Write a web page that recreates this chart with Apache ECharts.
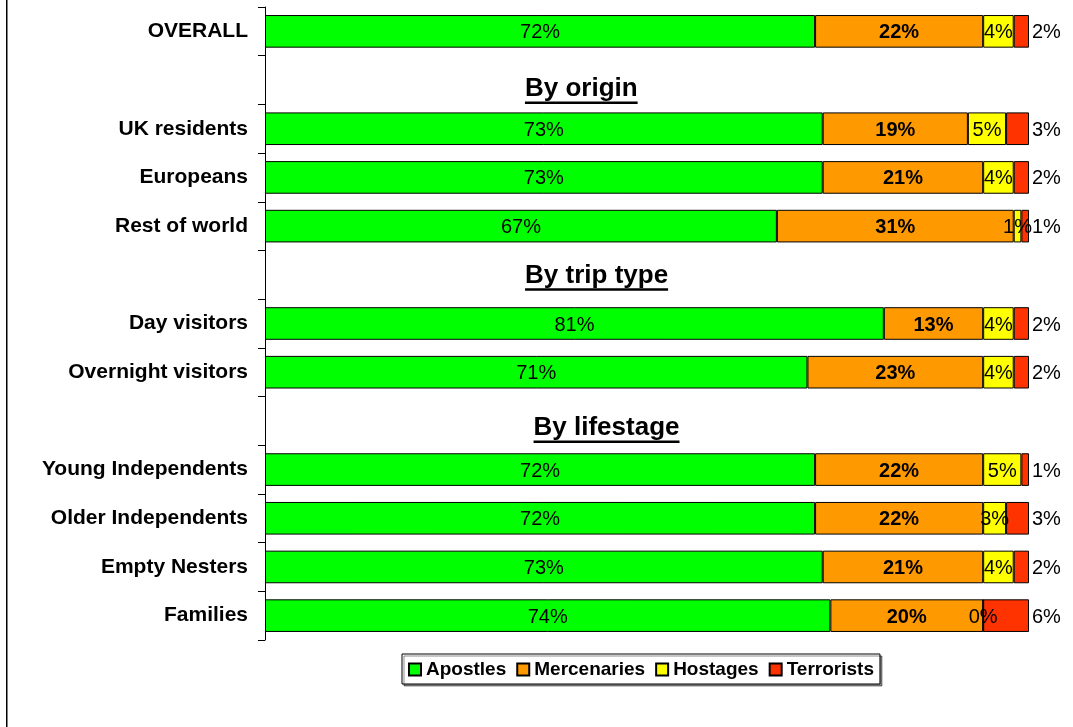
<!DOCTYPE html>
<html>
<head>
<meta charset="utf-8">
<script src="https://cdn.jsdelivr.net/npm/echarts@6/dist/echarts.min.js"></script>
<style>
html, body { margin: 0; padding: 0; background: #fff; }
#main { width: 1073px; height: 727px; }
</style>
</head>
<body>
<div id="main"></div>
<script>
// rows top to bottom; the heading rows carry no bars
var categories = ['OVERALL', 'By origin', 'UK residents', 'Europeans', 'Rest of world',
    'By trip type', 'Day visitors', 'Overnight visitors', 'By lifestage',
    'Young Independents', 'Older Independents', 'Empty Nesters', 'Families'];
var headings = ['By origin', 'By trip type', 'By lifestage'];
var seriesNames = ['Apostles', 'Mercenaries', 'Hostages', 'Terrorists'];

var apostles    = [72, null, 73, 73, 67, null, 81, 71, null, 72, 72, 73, 74];
var mercenaries = [22, null, 19, 21, 31, null, 13, 23, null, 22, 22, 21, 20];
var hostages    = [4,  null, 5,  4,  1,  null, 4,  4,  null, 5,  3,  4,  0];
var terrorists  = [2,  null, 3,  2,  1,  null, 2,  2,  null, 1,  3,  2,  6];

var FONT = '"Liberation Sans", Arial, sans-serif';
var chart = echarts.init(document.getElementById('main'));

var measureCtx = document.createElement('canvas').getContext('2d');
function textWidth(txt, font) {
    measureCtx.font = font;
    return measureCtx.measureText(txt).width;
}

// where the heading text boxes sit (x in %, dy in px from row centre)
var headingPos = [[41.4, 9], [43.4, 1], [44.7, 7]];

function barSeries(name, data, color, label) {
    return {
        name: name,
        type: 'bar',
        stack: 'total',
        barCategoryGap: '33%',
        data: data,
        itemStyle: { color: color, borderColor: '#000', borderWidth: 1 },
        label: Object.assign({
            show: true,
            formatter: '{c}%',
            color: '#000',
            fontFamily: FONT,
            fontSize: 20,
            offset: [0, 1.5]
        }, label),
        emphasis: { disabled: true }
    };
}

var option = {
    animation: false,
    backgroundColor: '#fff',
    grid: { left: 265, right: 44, top: 7, bottom: 87 },
    xAxis: {
        type: 'value',
        min: 0,
        max: 100,
        show: false
    },
    yAxis: {
        type: 'category',
        inverse: true,
        data: categories,
        axisLine: { show: true, lineStyle: { color: '#000', width: 1 } },
        axisTick: { show: true, length: 7, alignWithLabel: false, lineStyle: { color: '#000', width: 1 } },
        axisLabel: {
            margin: 17,
            fontFamily: FONT,
            fontSize: 21,
            fontWeight: 'bold',
            color: '#000',
            padding: [5, 0, 0, 0],
            formatter: function (v) { return headings.indexOf(v) >= 0 ? '' : v; }
        }
    },
    legend: {
        data: seriesNames,
        left: 402,
        top: 654,
        padding: [6, 6, 5, 6],
        itemWidth: 12,
        itemHeight: 12,
        itemGap: 10,
        icon: 'rect',
        borderColor: '#000',
        borderWidth: 1,
        backgroundColor: '#fff',
        shadowColor: 'rgba(0,0,0,0.45)',
        shadowOffsetX: 2,
        shadowOffsetY: 2,
        shadowBlur: 0,
        textStyle: { fontFamily: FONT, fontSize: 19, fontWeight: 'bold', color: '#000', padding: [2, 0, 0, 0] }
    },
    graphic: [{
        type: 'rect',
        shape: { x: 6, y: 0, width: 1.5, height: 727 },
        style: { fill: '#000' }
    }],
    series: [
        barSeries('Apostles', apostles, '#00ff00', { position: 'inside' }),
        barSeries('Mercenaries', mercenaries, '#ff9900', { position: 'inside', fontWeight: 'bold' }),
        barSeries('Hostages', hostages, '#ffff00', { position: 'inside' }),
        barSeries('Terrorists', terrorists, '#ff3300', { position: 'right', distance: 3 }),
        {
            type: 'custom',
            silent: true,
            data: headings.map(function (h, i) { return [headingPos[i][0], h]; }),
            renderItem: function (params, api) {
                var i = params.dataIndex;
                var name = headings[i];
                var p = api.coord([api.value(0), categories.indexOf(name)]);
                var font = 'bold 26px ' + FONT;
                var w = textWidth(name, font);
                var cy = p[1] + headingPos[i][1];
                return {
                    type: 'group',
                    children: [{
                        type: 'text',
                        x: p[0],
                        y: cy,
                        style: { text: name, font: font, fill: '#000', align: 'center', verticalAlign: 'middle' }
                    }, {
                        type: 'rect',
                        shape: { x: p[0] - w / 2, y: cy + 12.5, width: w, height: 2.5 },
                        style: { fill: '#000' }
                    }]
                };
            }
        }
    ]
};

chart.setOption(option);
</script>
</body>
</html>
